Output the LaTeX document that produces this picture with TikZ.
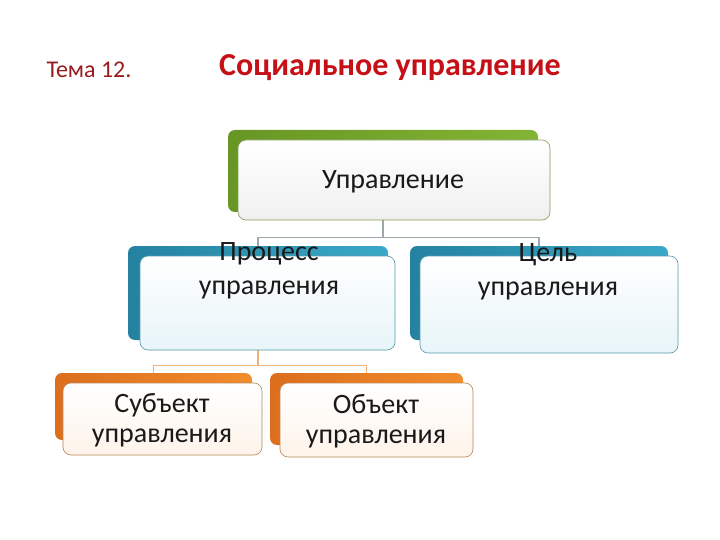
\documentclass[tikz,border=0pt]{standalone}
\usepackage{fontspec}
\setmainfont{Carlito}
\definecolor{titlered}{RGB}{196,16,22}
\definecolor{temared}{RGB}{150,28,30}
\definecolor{leafgreen}{RGB}{132,180,52}
\definecolor{leafgreendk}{RGB}{104,150,36}
\definecolor{skyblue}{RGB}{58,168,200}
\definecolor{skybluedk}{RGB}{36,130,160}
\definecolor{sunorange}{RGB}{242,140,44}
\definecolor{sunorangedk}{RGB}{220,110,30}
\begin{document}
\begin{tikzpicture}[x=1pt,y=-1pt,
  back/.style={rounded corners=7pt,minimum width=#1,inner sep=0pt},
  front/.style={draw=#1,line width=0.6pt,rounded corners=8pt,inner sep=0pt},
  boxtext/.style={font=\fontsize{28}{34}\selectfont,align=center,text=black!90},
  link/.style={line width=1.2pt}]
\useasboundingbox[fill=white] (0,0) rectangle (720,540);
% title
\node[font=\fontsize{24}{28}\selectfont,text=temared,anchor=west] (tema) at (43,70) {Тема 12.};
\node[font=\bfseries\fontsize{32}{38}\selectfont,text=titlered] (title) at (390,68) {Социальное управление};
% back boxes
\node[back=310pt,minimum height=82pt,left color=leafgreendk,right color=leafgreen] (uprB) at (383,171) {};
\node[back=260pt,minimum height=94pt,left color=skybluedk,right color=skyblue] (procB) at (258,293) {};
\node[back=258pt,minimum height=94pt,left color=skybluedk,right color=skyblue] (celB) at (539,293) {};
\node[back=197pt,minimum height=67pt,left color=sunorangedk,right color=sunorange] (subB) at (153.5,406.5) {};
\node[back=193pt,minimum height=72pt,left color=sunorangedk,right color=sunorange] (objB) at (366.5,409) {};
% connectors
\draw[link,color=gray!70!cyan!60!black!60] (uprB.south) -- ++(0,25) coordinate (uprJ) -| (procB.north);
\draw[link,color=gray!70!cyan!60!black!60] (uprJ) -| (celB.north);
\draw[link,color=orange!50!brown!60] (procB.south) -- ++(0,25) coordinate (procJ) -| (subB.north);
\draw[link,color=orange!50!brown!60] (procJ) -| (objB.north);
% front boxes
\node[front=leafgreen!50!gray,minimum width=312pt,minimum height=80pt,top color=white,bottom color=black!6] (upr) at (394,180) {};
\node[front=skyblue!60!gray,minimum width=255pt,minimum height=94pt,top color=white,bottom color=skyblue!12] (proc) at (267.5,303) {};
\node[front=skyblue!60!gray,minimum width=258pt,minimum height=97pt,top color=white,bottom color=skyblue!12] (cel) at (549,304.5) {};
\node[front=sunorange!50!gray,minimum width=199pt,minimum height=72pt,top color=white,bottom color=sunorange!10] (sub) at (162.5,419) {};
\node[front=sunorange!50!gray,minimum width=193pt,minimum height=74pt,top color=white,bottom color=sunorange!10] (obj) at (376.5,420) {};
% texts
\node[boxtext] (uprT) at (393,182) {Управление};
\node[boxtext] (procT) at (269,271) {Процесс\\управления};
\node[boxtext] (celT) at (548,272) {Цель\\управления};
\node[boxtext,font=\fontsize{28}{30}\selectfont] (subT) at (162,420) {Субъект\\управления};
\node[boxtext,font=\fontsize{28}{30}\selectfont] (objT) at (376,421) {Объект\\управления};
\end{tikzpicture}
\end{document}
